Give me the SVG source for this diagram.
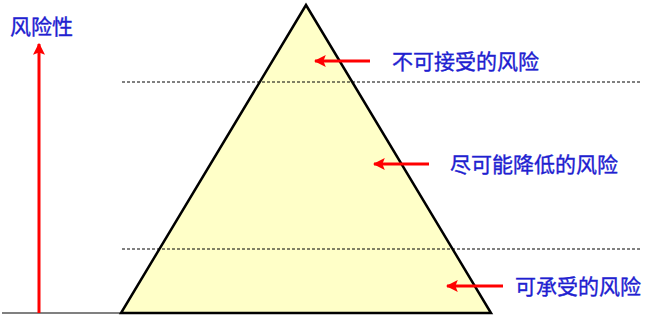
<svg xmlns="http://www.w3.org/2000/svg" width="649" height="322" viewBox="0 0 649 322">
<style>
.lbl{font-family:"Liberation Sans","Noto Sans CJK SC",sans-serif;font-size:21px;fill:#2020d0;stroke:#2020d0;stroke-width:0.35;dominant-baseline:central}
.arr{stroke:#ff0000;stroke-width:3;fill:none}
.dash{stroke:#000;stroke-width:1;stroke-dasharray:3,2;fill:none}
</style>
<defs>
<marker id="ah" viewBox="0 0 10 10" refX="9" refY="5" markerWidth="4" markerHeight="4" orient="auto" markerUnits="strokeWidth">
<path d="M0,0 L10,5 L0,10 L2,5 Z" fill="#ff0000"/>
</marker>
</defs>
<rect width="649" height="322" fill="#ffffff"/>
<g id="axis">
<line x1="2" y1="313" x2="141" y2="313" stroke="#808080" stroke-width="2"/>
<line x1="39" y1="313" x2="39" y2="44" class="arr" marker-end="url(#ah)"/>
<text x="10" y="26" class="lbl">风险性</text>
</g>
<g id="triangle">
<polygon points="306,5 121,313 491,313" fill="#ffffc8" stroke="#000" stroke-width="2.5" stroke-linejoin="miter"/>
</g>
<g id="levels">
<line x1="122" y1="82" x2="641" y2="82" class="dash"/>
<line x1="122" y1="249" x2="641" y2="249" class="dash"/>
</g>
<g id="connectors">
<line x1="370" y1="61" x2="315" y2="61" class="arr" marker-end="url(#ah)"/>
<line x1="429" y1="164" x2="374" y2="164" class="arr" marker-end="url(#ah)"/>
<line x1="503" y1="286" x2="447" y2="286" class="arr" marker-end="url(#ah)"/>
</g>
<g id="node-unacceptable">
<text x="392" y="61" class="lbl">不可接受的风险</text>
</g>
<g id="node-alarp">
<text x="450" y="164" class="lbl">尽可能降低的风险</text>
</g>
<g id="node-acceptable">
<text x="515" y="286" class="lbl">可承受的风险</text>
</g>
</svg>
